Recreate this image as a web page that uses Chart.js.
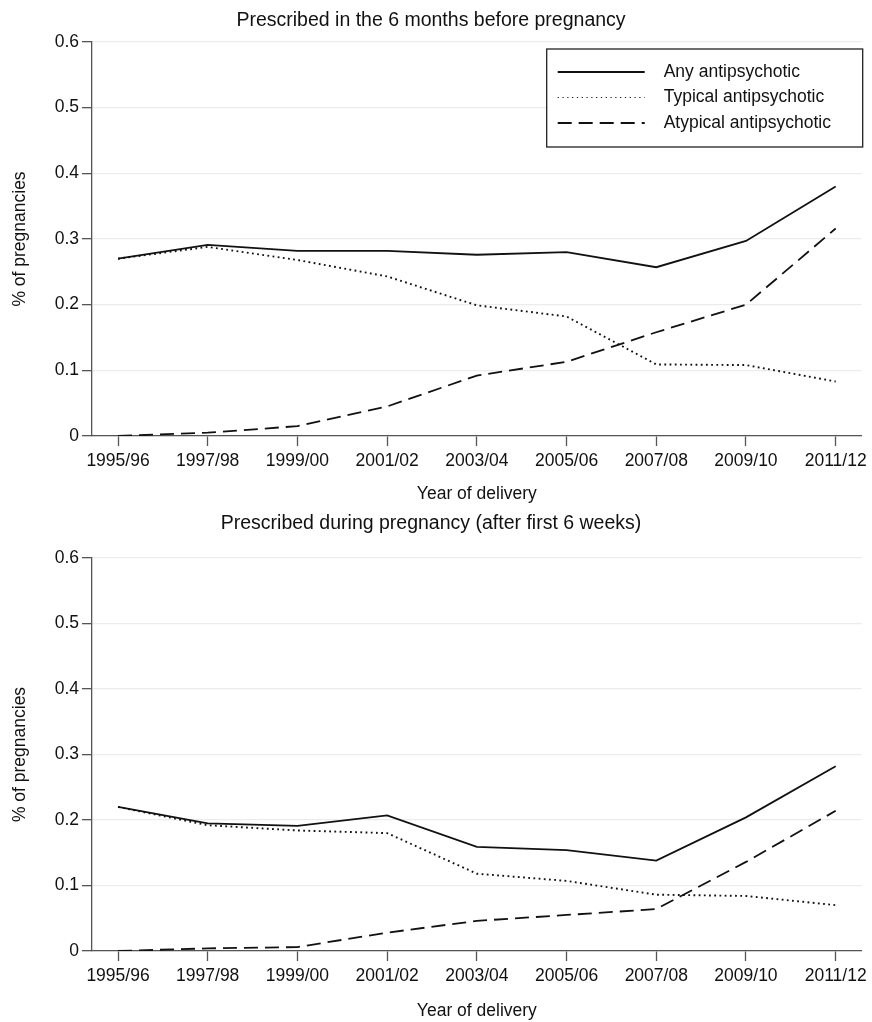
<!DOCTYPE html>
<html>
<head>
<meta charset="utf-8">
<script src="https://cdn.jsdelivr.net/npm/chart.js@4"></script>
<style>
  body { margin: 0; background: #fff; }
  .box { position: absolute; left: 0; width: 872px; }
  #top { top: 0; height: 505px; }
  #bottom { top: 505px; height: 517px; }
</style>
</head>
<body>
<div class="box" id="top"><canvas id="chart1"></canvas></div>
<div class="box" id="bottom"><canvas id="chart2"></canvas></div>
<script>
const years = ['1995/96', '1997/98', '1999/00', '2001/02', '2003/04', '2005/06', '2007/08', '2009/10', '2011/12'];
const yTicks = [0, 0.1, 0.2, 0.3, 0.4, 0.5, 0.6];
const seriesNames = ['Any antipsychotic', 'Typical antipsychotic', 'Atypical antipsychotic'];

// before pregnancy
const beforeAny = [0.270, 0.291, 0.282, 0.282, 0.276, 0.280, 0.257, 0.297, 0.380];
const beforeTypical = [0.270, 0.288, 0.268, 0.243, 0.199, 0.182, 0.109, 0.108, 0.083];
const beforeAtypical = [0.000, 0.005, 0.015, 0.045, 0.092, 0.113, 0.158, 0.200, 0.316];

// during pregnancy
const duringAny = [0.220, 0.195, 0.191, 0.207, 0.159, 0.154, 0.138, 0.204, 0.282];
const duringTypical = [0.220, 0.192, 0.184, 0.180, 0.118, 0.107, 0.086, 0.084, 0.070];
const duringAtypical = [0.000, 0.004, 0.006, 0.028, 0.046, 0.055, 0.064, 0.136, 0.214];

const FONT = "'Liberation Sans', Arial, sans-serif";
const solid = [];
const dotted = [1.8, 3.4];
const dashed = [14, 7];

function toPoints(arr) {
    return arr.map((v, i) => ({x: i, y: v}));
}

function makeDatasets(any, typical, atypical) {
    const dashes = [solid, dotted, dashed];
    return [any, typical, atypical].map((arr, k) => ({
        label: seriesNames[k],
        data: toPoints(arr),
        borderColor: '#111',
        borderWidth: k == 1 ? 1.9 : 1.8,
        borderDash: dashes[k],
        borderCapStyle: 'butt',
        pointRadius: 0,
        tension: 0,
        fill: false
    }));
}

// legend box inside the plot, top right
const boxLegend = {
    id: 'boxLegend',
    afterDraw(chart, args, opts) {
        if (!opts.show) return;
        const ctx = chart.ctx;
        const a = chart.chartArea;
        const w = 316, h = 98;
        const x0 = a.right + 1 - w, y0 = a.top + 7;
        ctx.save();
        ctx.fillStyle = '#fff';
        ctx.fillRect(x0, y0, w, h);
        ctx.strokeStyle = '#222';
        ctx.lineWidth = 1.3;
        ctx.strokeRect(x0, y0, w, h);
        ctx.font = '17.5px ' + FONT;
        ctx.textBaseline = 'middle';
        ctx.fillStyle = '#111';
        chart.data.datasets.forEach((ds, i) => {
            const y = y0 + 23 + i * 25.5;
            ctx.beginPath();
            ctx.setLineDash(i == 1 ? [1.2, 3.6] : ds.borderDash);
            ctx.lineWidth = i == 1 ? 1.2 : ds.borderWidth;
            ctx.strokeStyle = ds.borderColor;
            ctx.moveTo(x0 + 11, y);
            ctx.lineTo(x0 + 98, y);
            ctx.stroke();
            ctx.setLineDash([]);
            ctx.fillText(ds.label, x0 + 117, y);
        });
        ctx.restore();
    }
};

function makeChart(id, title, datasets, cfg) {
    const ctx = document.getElementById(id).getContext('2d');
    return new Chart(ctx, {
        type: 'line',
        data: { datasets: datasets },
        plugins: [boxLegend],
        options: {
            responsive: true,
            maintainAspectRatio: false,
            animation: false,
            layout: { padding: { left: 0, right: 10, top: 0, bottom: 0 } },
            plugins: {
                legend: { display: false },
                tooltip: { enabled: false },
                boxLegend: { show: cfg.legend },
                title: {
                    display: true,
                    text: title,
                    color: '#111',
                    font: { family: FONT, size: 19.5, weight: 'normal' },
                    padding: cfg.titlePad
                }
            },
            scales: {
                x: {
                    type: 'linear',
                    min: -0.29,
                    max: 8.29,
                    afterBuildTicks: function(scale) {
                        scale.ticks = years.map((y, i) => ({value: i}));
                    },
                    afterFit: function(scale) {
                        scale.height = cfg.xHeight;
                    },
                    ticks: {
                        callback: function(v) { return years[v]; },
                        color: '#111',
                        font: { family: FONT, size: 17.5 },
                        padding: 5,
                        maxRotation: 0,
                        autoSkip: false
                    },
                    grid: { drawOnChartArea: false, tickLength: 10, tickColor: '#555', tickWidth: 1.3 },
                    border: { color: '#555', width: 1.3 },
                    title: {
                        display: true,
                        text: 'Year of delivery',
                        color: '#111',
                        font: { family: FONT, size: 17.5 },
                        padding: { top: 0, bottom: 0 }
                    }
                },
                y: {
                    min: 0,
                    max: 0.6,
                    afterBuildTicks: function(scale) {
                        scale.ticks = yTicks.map(v => ({value: v}));
                    },
                    afterFit: function(scale) {
                        scale.width = 92;
                    },
                    ticks: {
                        callback: function(v) { return v == 0 ? '0' : v.toFixed(1); },
                        color: '#111',
                        font: { family: FONT, size: 17.5 },
                        padding: 3
                    },
                    grid: { color: '#ececec', lineWidth: 1.3, tickLength: 10, tickColor: '#555', tickWidth: 1.3 },
                    border: { color: '#555', width: 1.3 },
                    title: {
                        display: true,
                        text: '% of pregnancies',
                        color: '#111',
                        font: { family: FONT, size: 17.5 },
                        padding: { top: 10, bottom: 0 }
                    }
                }
            }
        }
    });
}

makeChart('chart1', 'Prescribed in the 6 months before pregnancy',
    makeDatasets(beforeAny, beforeTypical, beforeAtypical),
    { legend: true, xHeight: 69, titlePad: { top: 9, bottom: 9.6 } });

makeChart('chart2', 'Prescribed during pregnancy (after first 6 weeks)',
    makeDatasets(duringAny, duringTypical, duringAtypical),
    { legend: false, xHeight: 71, titlePad: { top: 7, bottom: 22.6 } });
</script>
</body>
</html>
